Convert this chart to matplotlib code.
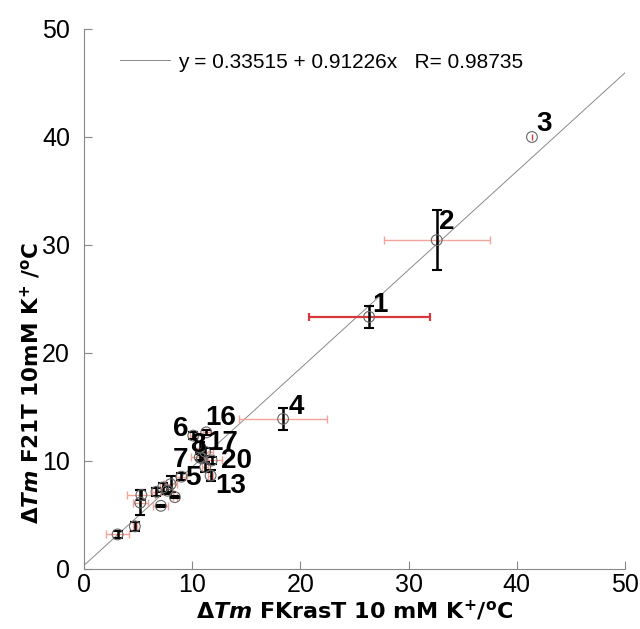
import matplotlib
matplotlib.use("Agg")
import matplotlib.pyplot as plt
import numpy as np

plt.rcParams['font.family'] = ['Liberation Sans', 'DejaVu Sans']
plt.rcParams['mathtext.fontset'] = 'custom'
plt.rcParams['mathtext.rm'] = 'DejaVu Sans:bold'
plt.rcParams['mathtext.it'] = 'DejaVu Sans:italic:bold'
plt.rcParams['mathtext.bf'] = 'DejaVu Sans:bold'

# data
x_vals = [26.35, 32.6, 41.4, 18.4, 3.1, 4.7, 5.2, 5.3, 6.7, 7.1, 7.3, 7.7, 8.0, 8.4,
          9.0, 10.7, 10.1, 11.3, 10.7, 11.2, 11.8, 11.7, 11.2, 10.9]
y_vals = [23.35, 30.45, 40.0, 13.9, 3.2, 3.95, 6.15, 6.85, 7.15, 5.85, 7.55, 7.25, 7.85, 6.65,
          8.55, 10.35, 12.35, 12.65, 11.25, 10.85, 10.05, 8.65, 9.45, 10.25]
x_err = [5.6, 4.9, 0.0, 4.1, 1.1, 0.2, 0.7, 1.3, 0.4, 0.7, 0.3, 0.5, 0.6, 0.2,
         0.5, 0.8, 0.3, 0.3, 0.4, 0.7, 1.0, 0.2, 0.3, 0.3]
y_err = [1.0, 2.8, 0.3, 1.05, 0.3, 0.4, 1.15, 0.5, 0.35, 0.1, 0.4, 0.3, 0.75, 0.1,
         0.3, 0.3, 0.3, 0.2, 0.5, 0.4, 0.3, 0.5, 0.5, 0.3]
point_labels = ['1', '2', '3', '4', '', '', '', '', '', '', '', '', '', '',
                '5', '7', '6', '16', '8', '17', '20', '13', '', '']
intercept = 0.33515
slope = 0.91226
r_value = 0.98735

fig = plt.figure(figsize=(6.4, 6.29), dpi=100)
ax = fig.add_axes([84 / 640, 60 / 629, 541 / 640, 540 / 629])

# fit line
fx = np.array([0, 50])
ax.plot(fx, intercept + slope * fx, color='#8a8a8a', lw=0.7,
        label=f'y = {intercept} + {slope}x   R= {r_value}', zorder=1)

pink = '#f2a49a'
red = '#d9383a'
for i, (xv, yv, xe, ye) in enumerate(zip(x_vals, y_vals, x_err, y_err)):
    xc = red if i == 0 else pink
    if xe > 0:
        ax.errorbar(xv, yv, xerr=xe, fmt='none', ecolor=xc, elinewidth=1.6 if i == 0 else 1.0,
                    capsize=3, capthick=1.6 if i == 0 else 1.0, zorder=2)
    yc = red if i == 2 else 'black'
    ax.errorbar(xv, yv, yerr=ye, fmt='none', ecolor=yc, elinewidth=1.0 if i == 2 else 1.8,
                capsize=0 if i == 2 else 3.5, capthick=1.5, zorder=3)
ax.scatter(x_vals, y_vals, s=60, facecolors='none', edgecolors='#666666', linewidths=0.8, zorder=4)

offsets = {'1': (11, 12), '2': (10, 18), '3': (12, 13), '4': (13, 12), '16': (14, 14),
           '6': (-13, 7), '8': (-2, 3), '17': (18, 9), '7': (-19, -3), '20': (25, -1),
           '5': (11, -1), '13': (20, -10)}
for xv, yv, lab in zip(x_vals, y_vals, point_labels):
    if lab:
        dx, dy = offsets[lab]
        ax.annotate(lab, (xv, yv), xytext=(dx, dy), textcoords='offset pixels',
                    ha='center', va='center', fontsize=20, fontweight='bold',
                    family=['Liberation Sans Narrow', 'Liberation Sans'], zorder=5)

ax.set_xlim(0, 50)
ax.set_ylim(0, 50)
ax.set_xticks([0, 10, 20, 30, 40, 50])
ax.set_yticks([0, 10, 20, 30, 40, 50])
for s in ['top', 'right']:
    ax.spines[s].set_visible(False)
for s in ['left', 'bottom']:
    ax.spines[s].set_color('#888888')
ax.tick_params(direction='in', length=6, color='#888888', labelsize=18)
ax.tick_params(axis='y', pad=10)
ax.tick_params(axis='x', pad=3)

ax.set_xlabel(r'$\mathit{\Delta Tm}$ FKrasT 10 mM K$^{+}$/$^{\mathrm{o}}$C',
              fontsize=16, fontweight='bold', family='DejaVu Sans', labelpad=1)
ax.set_ylabel(r'$\mathit{\Delta Tm}$ F21T 10mM K$^{+}$ /$^{\mathrm{o}}$C',
              fontsize=15.5, fontweight='bold', family='DejaVu Sans', labelpad=1)
ax.yaxis.set_label_coords(-0.075, (569 - 383) / 540)

ax.legend(loc='center left', bbox_to_anchor=(36 / 541, (569 - 62) / 540), frameon=False,
          fontsize=15, handlelength=2.4, handletextpad=0.4, borderpad=0, borderaxespad=0)

fig.savefig('out.png', dpi=100)
